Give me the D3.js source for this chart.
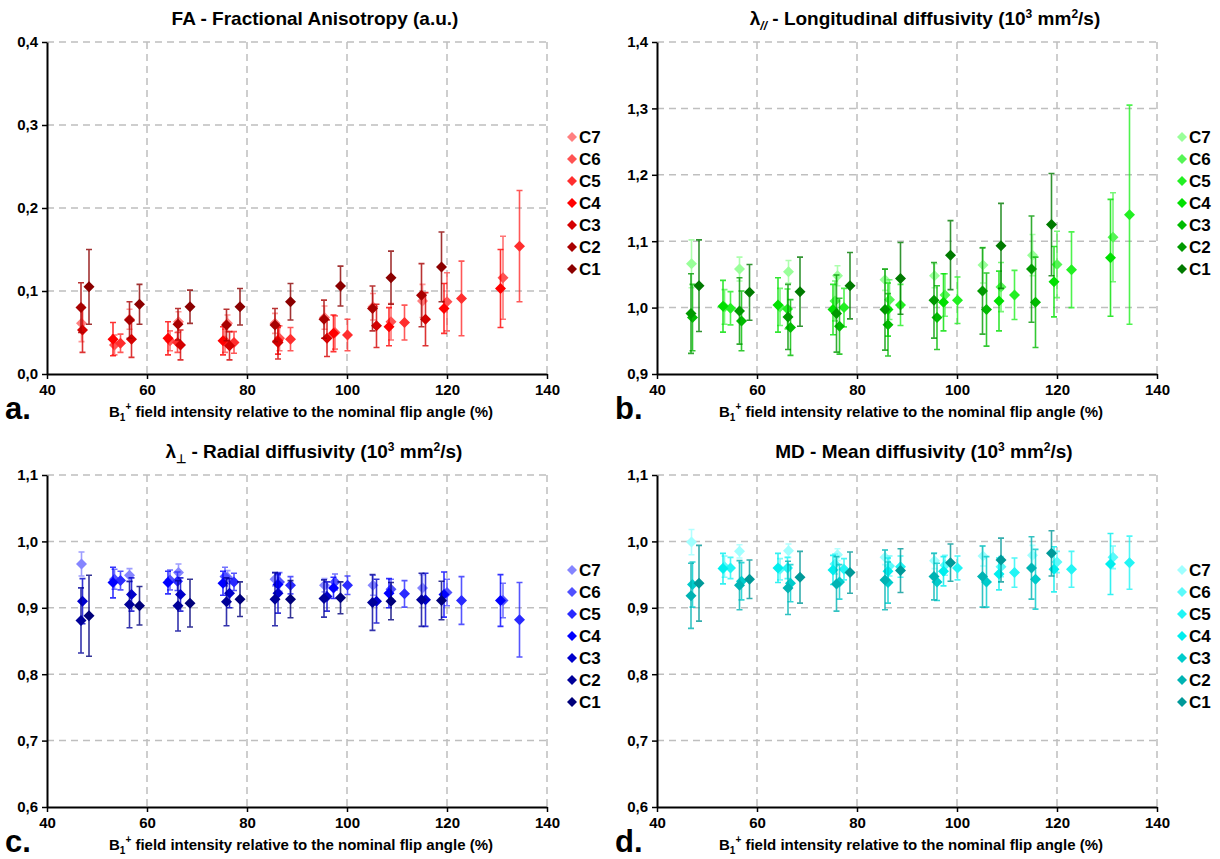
<!DOCTYPE html>
<html>
<head>
<meta charset="utf-8">
<script src="https://cdn.jsdelivr.net/npm/d3@7"></script>
<style>
  body { margin: 0; background: #fff; }
  svg { display: block; }
  text { font-family: "Liberation Sans", Arial, sans-serif; font-weight: bold; fill: #000; }
</style>
</head>
<body>
<svg id="chart" width="1220" height="859"></svg>
<script>
// series order C1..C7 in every array below
var seriesNames = ["C1", "C2", "C3", "C4", "C5", "C6", "C7"];

// B1+ field intensity (%) of each point, per series
var b1_x = [
  [48.4, 58.5, 68.6, 78.6, 88.7, 98.7, 108.8, 118.9],
  [46.8, 56.5, 66.2, 75.9, 85.6, 95.4, 105.1, 114.9],
  [47.1, 56.9, 66.7, 76.5, 86.2, 96.0, 105.9, 115.7],
  [53.2, 64.2, 75.2, 86.2, 97.3, 108.4, 119.4, 130.7],
  [54.7, 66.1, 77.4, 88.7, 100.1, 111.5, 122.9, 134.5],
  [53.5, 64.6, 75.6, 86.5, 97.6, 108.8, 120.0, 131.2],
  [46.9, 56.5, 66.3, 76.1, 85.6, 95.5, 105.2, 115.1]
];

var fa_mean = [
  [0.105, 0.084, 0.081, 0.081, 0.087, 0.106, 0.116, 0.129],
  [0.080, 0.065, 0.060, 0.059, 0.059, 0.066, 0.079, 0.095],
  [0.053, 0.042, 0.035, 0.034, 0.038, 0.043, 0.058, 0.066],
  [0.042, 0.043, 0.040, 0.040, 0.049, 0.057, 0.079, 0.103],
  [0.037, 0.038, 0.038, 0.042, 0.047, 0.062, 0.091, 0.154],
  [0.035, 0.040, 0.040, 0.043, 0.050, 0.063, 0.087, 0.116],
  [0.061, 0.066, 0.063, 0.061, 0.061, 0.068, 0.081, 0.088]
];
var fa_sd = [
  [0.045, 0.024, 0.020, 0.022, 0.022, 0.024, 0.032, 0.042],
  [0.030, 0.022, 0.019, 0.019, 0.020, 0.023, 0.027, 0.038],
  [0.027, 0.022, 0.018, 0.017, 0.020, 0.022, 0.026, 0.032],
  [0.020, 0.020, 0.017, 0.016, 0.022, 0.023, 0.030, 0.047],
  [0.011, 0.012, 0.013, 0.014, 0.019, 0.021, 0.045, 0.067],
  [0.012, 0.012, 0.014, 0.015, 0.020, 0.022, 0.035, 0.050],
  [0.022, 0.012, 0.012, 0.010, 0.012, 0.014, 0.016, 0.020]
];

var ld_mean = [
  [1.033, 1.023, 1.024, 1.033, 1.044, 1.079, 1.093, 1.125],
  [0.991, 0.995, 0.986, 0.991, 0.997, 1.011, 1.025, 1.058],
  [0.985, 0.980, 0.970, 0.972, 0.974, 0.985, 0.997, 1.008],
  [1.002, 1.004, 0.997, 0.997, 1.008, 1.010, 1.039, 1.075],
  [0.999, 0.998, 1.000, 1.004, 1.011, 1.019, 1.057, 1.140],
  [1.001, 1.001, 1.010, 1.012, 1.019, 1.031, 1.065, 1.106],
  [1.066, 1.058, 1.054, 1.048, 1.042, 1.048, 1.064, 1.079]
];
var ld_sd = [
  [0.069, 0.042, 0.052, 0.050, 0.054, 0.052, 0.064, 0.077],
  [0.060, 0.050, 0.049, 0.058, 0.061, 0.057, 0.065, 0.080],
  [0.050, 0.045, 0.042, 0.042, 0.047, 0.048, 0.055, 0.068],
  [0.039, 0.041, 0.038, 0.040, 0.043, 0.045, 0.053, 0.088],
  [0.025, 0.030, 0.029, 0.031, 0.035, 0.037, 0.057, 0.165],
  [0.026, 0.028, 0.030, 0.030, 0.032, 0.037, 0.050, 0.067],
  [0.036, 0.018, 0.017, 0.015, 0.016, 0.018, 0.027, 0.031]
];

var rd_mean = [
  [0.888, 0.903, 0.907, 0.913, 0.913, 0.915, 0.910, 0.911],
  [0.881, 0.905, 0.903, 0.909, 0.913, 0.914, 0.908, 0.912],
  [0.910, 0.920, 0.920, 0.922, 0.922, 0.917, 0.910, 0.912],
  [0.938, 0.938, 0.937, 0.935, 0.930, 0.922, 0.920, 0.911],
  [0.941, 0.940, 0.939, 0.934, 0.934, 0.921, 0.911, 0.882],
  [0.943, 0.942, 0.947, 0.939, 0.939, 0.928, 0.923, 0.911],
  [0.966, 0.949, 0.953, 0.946, 0.943, 0.934, 0.934, 0.930]
];
var rd_sd = [
  [0.061, 0.029, 0.036, 0.026, 0.028, 0.024, 0.028, 0.029],
  [0.049, 0.035, 0.038, 0.036, 0.040, 0.028, 0.042, 0.040],
  [0.034, 0.025, 0.025, 0.022, 0.030, 0.022, 0.033, 0.040],
  [0.023, 0.017, 0.018, 0.015, 0.016, 0.022, 0.034, 0.039],
  [0.014, 0.014, 0.013, 0.013, 0.014, 0.020, 0.036, 0.056],
  [0.015, 0.015, 0.014, 0.014, 0.012, 0.015, 0.020, 0.026],
  [0.018, 0.010, 0.013, 0.010, 0.010, 0.010, 0.015, 0.020]
];

var md_mean = [
  [0.937, 0.943, 0.946, 0.953, 0.956, 0.968, 0.972, 0.982],
  [0.918, 0.934, 0.930, 0.936, 0.942, 0.947, 0.947, 0.960],
  [0.935, 0.940, 0.937, 0.939, 0.938, 0.939, 0.939, 0.943],
  [0.959, 0.960, 0.957, 0.955, 0.955, 0.951, 0.958, 0.966],
  [0.960, 0.960, 0.958, 0.962, 0.960, 0.953, 0.958, 0.968],
  [0.962, 0.958, 0.966, 0.963, 0.964, 0.962, 0.969, 0.976],
  [0.999, 0.985, 0.986, 0.980, 0.976, 0.971, 0.978, 0.979]
];
var md_sd = [
  [0.057, 0.029, 0.039, 0.031, 0.033, 0.028, 0.033, 0.034],
  [0.049, 0.037, 0.040, 0.041, 0.045, 0.035, 0.046, 0.047],
  [0.034, 0.028, 0.028, 0.026, 0.031, 0.028, 0.038, 0.045],
  [0.023, 0.022, 0.022, 0.020, 0.022, 0.024, 0.034, 0.046],
  [0.016, 0.016, 0.016, 0.016, 0.018, 0.022, 0.027, 0.040],
  [0.016, 0.016, 0.015, 0.015, 0.015, 0.015, 0.016, 0.017],
  [0.019, 0.010, 0.010, 0.009, 0.011, 0.012, 0.015, 0.015]
];

var xTicks = [40, 60, 80, 100, 120, 140];
var faTicks = [0.0, 0.1, 0.2, 0.3, 0.4];
var ldTicks = [0.9, 1.0, 1.1, 1.2, 1.3, 1.4];
var rdTicks = [0.6, 0.7, 0.8, 0.9, 1.0, 1.1];
var mdTicks = [0.6, 0.7, 0.8, 0.9, 1.0, 1.1];

var redShades   = ["#8b0000", "#a80000", "#d40000", "#ff0000", "#ff2e2e", "#ff5252", "#ff8080"];
var greenShades = ["#007a00", "#009900", "#00bb00", "#00e000", "#22f022", "#55f555", "#99ff99"];
var blueShades  = ["#00007a", "#000099", "#0000cc", "#0000ff", "#2a2aff", "#5050ff", "#8585ff"];
var cyanShades  = ["#009999", "#00b3b3", "#00cccc", "#00eeee", "#22f5f5", "#5cfafa", "#a0ffff"];

var panels = [
  { mean: fa_mean, sd: fa_sd, ticks: faTicks, colors: redShades, letter: "a.",
    x0: 47, x1: 547, top: 42, bottom: 374, titleX: 315, legendX: 572, title: "fa" },
  { mean: ld_mean, sd: ld_sd, ticks: ldTicks, colors: greenShades, letter: "b.",
    x0: 657, x1: 1157, top: 42, bottom: 374, titleX: 925, legendX: 1182, title: "ld" },
  { mean: rd_mean, sd: rd_sd, ticks: rdTicks, colors: blueShades, letter: "c.",
    x0: 47, x1: 547, top: 475, bottom: 807, titleX: 314, legendX: 572, title: "rd" },
  { mean: md_mean, sd: md_sd, ticks: mdTicks, colors: cyanShades, letter: "d.",
    x0: 657, x1: 1157, top: 475, bottom: 807, titleX: 924, legendX: 1182, title: "md" }
];

var svg = d3.select("#chart");
var fmt = function(v) { return d3.format(".1f")(v).replace(".", ","); };
var diamond = function(r) { return "M0," + (-r) + "L" + r + ",0L0," + r + "L" + (-r) + ",0Z"; };

function unitsTitle(t, text) {
  // "(10^3 mm^2/s)" tail shared by three titles
  t.append("tspan").text(text + " (10");
  t.append("tspan").attr("font-size", 12).attr("dy", -7).text("3");
  t.append("tspan").attr("dy", 7).text(" mm");
  t.append("tspan").attr("font-size", 12).attr("dy", -7).text("2");
  t.append("tspan").attr("dy", 7).text("/s)");
}

panels.forEach(function(p) {
  var g = svg.append("g");
  var x = d3.scaleLinear().domain([40, 140]).range([p.x0, p.x1]);
  var y = d3.scaleLinear().domain(d3.extent(p.ticks)).range([p.bottom, p.top]);

  // dashed grid
  g.selectAll(".hg").data(p.ticks.slice(1)).join("line")
    .attr("x1", p.x0).attr("x2", p.x1)
    .attr("y1", d => y(d)).attr("y2", d => y(d))
    .attr("stroke", "#bfbfbf").attr("stroke-width", 1.5).attr("stroke-dasharray", "7,5");
  g.selectAll(".vg").data(xTicks.slice(1)).join("line")
    .attr("x1", d => x(d)).attr("x2", d => x(d))
    .attr("y1", p.top).attr("y2", p.bottom)
    .attr("stroke", "#bfbfbf").attr("stroke-width", 1.5).attr("stroke-dasharray", "7,5");

  // axes
  var ax = g.append("g").attr("transform", "translate(0," + p.bottom + ")")
    .call(d3.axisBottom(x).tickValues(xTicks).tickSize(5).tickSizeOuter(0).tickPadding(5));
  var ay = g.append("g").attr("transform", "translate(" + p.x0 + ",0)")
    .call(d3.axisLeft(y).tickValues(p.ticks).tickFormat(fmt).tickSize(5).tickSizeOuter(0).tickPadding(4));
  [ax, ay].forEach(function(a) {
    a.select(".domain").attr("stroke", "#000").attr("stroke-width", 2);
    a.selectAll(".tick line").attr("stroke", "#000").attr("stroke-width", 1.5);
    a.selectAll(".tick text").attr("font-size", 15).attr("font-weight", "bold")
      .attr("font-family", "Liberation Sans, Arial, sans-serif").attr("fill", "#000");
  });

  // x axis title
  var xt = g.append("text").attr("x", (p.x0 + p.x1) / 2 + 4).attr("y", p.bottom + 43)
    .attr("text-anchor", "middle").attr("font-size", 15);
  xt.append("tspan").text("B");
  xt.append("tspan").attr("font-size", 10).attr("dy", 4).text("1");
  xt.append("tspan").attr("font-size", 10).attr("dy", -11).text("+");
  xt.append("tspan").attr("dy", 7).text(" field intensity relative to the nominal flip angle (%)");

  // panel letter
  g.append("text").attr("x", p.x0 - 42).attr("y", p.bottom + 45)
    .attr("font-size", 31).text(p.letter);

  // title
  var t = g.append("text").attr("x", p.titleX).attr("y", p.top - 17)
    .attr("text-anchor", "middle").attr("font-size", 19);
  if (p.title === "fa") {
    t.text("FA - Fractional Anisotropy (a.u.)");
  } else if (p.title === "ld") {
    t.append("tspan").text("λ");
    t.append("tspan").attr("font-size", 12).attr("font-style", "italic").attr("dy", 5).text("//");
    t.append("tspan").attr("dy", -5).text(" ");
    unitsTitle(t, "- Longitudinal diffusivity");
  } else if (p.title === "rd") {
    t.append("tspan").text("λ");
    t.append("tspan").attr("font-size", 12).attr("dy", 5).text("⊥");
    t.append("tspan").attr("dy", -5).text(" ");
    unitsTitle(t, "- Radial diffusivity");
  } else {
    unitsTitle(t, "MD - Mean diffusivity");
  }

  // series: draw C7 first so C1 ends on top
  for (var s = 6; s >= 0; s--) {
    var col = p.colors[s];
    var pts = b1_x[s].map(function(xv, i) {
      return { x: xv, m: p.mean[s][i], e: p.sd[s][i] };
    });
    var sg = g.append("g");
    sg.selectAll(".eb").data(pts).join("path")
      .attr("d", function(d) {
        var cx = x(d.x), y1 = y(d.m + d.e), y2 = y(d.m - d.e);
        return "M" + cx + "," + y1 + "V" + y2 +
               "M" + (cx - 3) + "," + y1 + "H" + (cx + 3) +
               "M" + (cx - 3) + "," + y2 + "H" + (cx + 3);
      })
      .attr("stroke", col).attr("stroke-width", 1.6).attr("fill", "none").attr("opacity", 0.8);
    sg.selectAll(".pt").data(pts).join("path")
      .attr("d", diamond(5.5))
      .attr("transform", d => "translate(" + x(d.x) + "," + y(d.m) + ")")
      .attr("fill", col);
  }

  // legend, C7 at top
  var order = [6, 5, 4, 3, 2, 1, 0];
  var lg = g.append("g");
  order.forEach(function(s, i) {
    var ly = p.top + 95 + i * 22;
    lg.append("path").attr("d", diamond(5)).attr("fill", p.colors[s])
      .attr("transform", "translate(" + p.legendX + "," + ly + ")");
    lg.append("text").attr("x", p.legendX + 7).attr("y", ly + 6)
      .attr("font-size", 17).text(seriesNames[s]);
  });
});
</script>
</body>
</html>
